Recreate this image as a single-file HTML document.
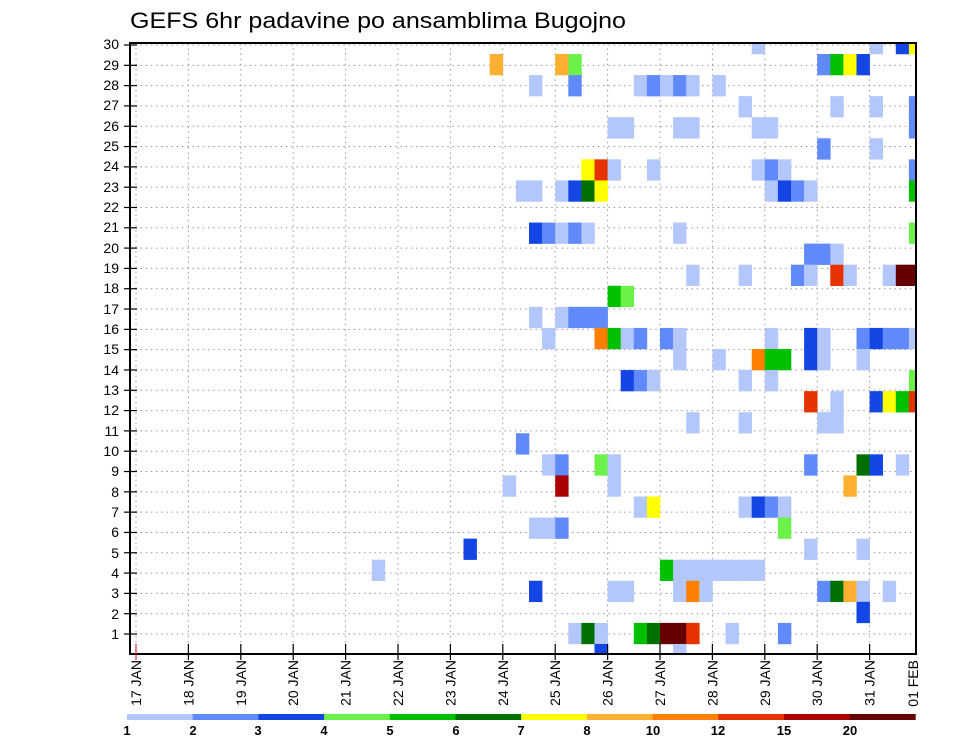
<!DOCTYPE html>
<html><head><meta charset="utf-8"><style>
html,body{margin:0;padding:0;background:#fff;}
svg{display:block;font-family:"Liberation Sans",sans-serif;}
</style></head><body>
<svg id="s" width="960" height="742" viewBox="0 0 960 742" xmlns="http://www.w3.org/2000/svg">
<defs><clipPath id="pc"><rect x="130" y="43" width="786" height="611"/></clipPath></defs>
<text x="130" y="28" font-size="22" textLength="496" lengthAdjust="spacingAndGlyphs" fill="#000">GEFS 6hr padavine po ansamblima Bugojno</text>
<g id="grid"></g>
<g id="cells" clip-path="url(#pc)"></g>
<rect x="130" y="43" width="786" height="611" fill="none" stroke="#000" stroke-width="2"/>
<g id="ticks"></g>
<g font-size="14" text-anchor="end" fill="#000">
<text x="119" y="639">1</text><text x="119" y="619">2</text><text x="119" y="598">3</text><text x="119" y="578">4</text><text x="119" y="558">5</text><text x="119" y="537">6</text><text x="119" y="517">7</text><text x="119" y="497">8</text><text x="119" y="476">9</text><text x="119" y="456">10</text><text x="119" y="436">11</text><text x="119" y="415">12</text><text x="119" y="395">13</text><text x="119" y="375">14</text><text x="119" y="354">15</text><text x="119" y="334">16</text><text x="119" y="314">17</text><text x="119" y="293">18</text><text x="119" y="273">19</text><text x="119" y="253">20</text><text x="119" y="232">21</text><text x="119" y="212">22</text><text x="119" y="192">23</text><text x="119" y="171">24</text><text x="119" y="151">25</text><text x="119" y="131">26</text><text x="119" y="110">27</text><text x="119" y="90">28</text><text x="119" y="70">29</text><text x="119" y="49">30</text>
</g>
<g font-size="14" text-anchor="end" fill="#000">
<text transform="translate(141,660) rotate(-90)">17 JAN</text>
<text transform="translate(193.4,660) rotate(-90)">18 JAN</text>
<text transform="translate(245.8,660) rotate(-90)">19 JAN</text>
<text transform="translate(298.2,660) rotate(-90)">20 JAN</text>
<text transform="translate(350.6,660) rotate(-90)">21 JAN</text>
<text transform="translate(403,660) rotate(-90)">22 JAN</text>
<text transform="translate(455.4,660) rotate(-90)">23 JAN</text>
<text transform="translate(507.8,660) rotate(-90)">24 JAN</text>
<text transform="translate(560.2,660) rotate(-90)">25 JAN</text>
<text transform="translate(612.6,660) rotate(-90)">26 JAN</text>
<text transform="translate(665,660) rotate(-90)">27 JAN</text>
<text transform="translate(717.4,660) rotate(-90)">28 JAN</text>
<text transform="translate(769.8,660) rotate(-90)">29 JAN</text>
<text transform="translate(822.2,660) rotate(-90)">30 JAN</text>
<text transform="translate(874.6,660) rotate(-90)">31 JAN</text>
<text transform="translate(918,660) rotate(-90)">01 FEB</text>
</g>
<g id="cbar"></g>
<g font-size="13" font-weight="bold" text-anchor="middle" fill="#000">
<text x="127" y="735">1</text><text x="193" y="735">2</text><text x="258" y="735">3</text><text x="324" y="735">4</text><text x="390" y="735">5</text><text x="456" y="735">6</text><text x="521" y="735">7</text><text x="587" y="735">8</text><text x="653" y="735">10</text><text x="718" y="735">12</text><text x="784" y="735">15</text><text x="850" y="735">20</text>
</g>
</svg>
<script>
var NS="http://www.w3.org/2000/svg";
function el(p,t,a){var e=document.createElementNS(NS,t);for(var k in a)e.setAttribute(k,a[k]);p.appendChild(e);return e;}
var C={L:"#b3c7fb",M:"#6089fa",D:"#1446e6",LG:"#6cf04a",G:"#00c000",DG:"#007000",Y:"#ffff00",O:"#ffb030",OR:"#ff7f00",R:"#e63200",DR:"#aa0000",X:"#660000"};
var grid=document.getElementById("grid"),ticks=document.getElementById("ticks");
for(var k=1;k<=30;k++){var y=634-(k-1)*20.31;
 el(grid,"line",{x1:130,x2:916,y1:y,y2:y,stroke:"#999","stroke-width":1,"stroke-dasharray":"1.5 3.7"});
 el(ticks,"line",{x1:124,x2:137,y1:y,y2:y,stroke:"#000","stroke-width":1.2});}
for(var d=0;d<15;d++){var x=136+d*52.4;
 el(grid,"line",{x1:x,x2:x,y1:43,y2:654,stroke:"#999","stroke-width":1,"stroke-dasharray":"1.5 3.7"});
 el(ticks,"line",{x1:x,x2:x,y1:644,y2:660,stroke:d==0?"#c33":"#000","stroke-width":1.2});}
var data={
"-1":"47L 56L 58D 59Y",
"0":"27O 32O 33LG 52M 53G 54Y 55D",
"1":"30L 33M 38L 39M 40L 41M 42L 44L",
"2":"46L 53L 56L 59M",
"3":"36L 37L 41L 42L 47L 48L 59M",
"4":"52M 56L",
"5":"34Y 35R 36L 39L 47L 48M 49L 59M",
"6":"29L 30L 32L 33D 34DG 35Y 48L 49D 50M 51L 59G",
"8":"30D 31M 32L 33M 34L 41L 59LG",
"9":"51M 52M 53L",
"10":"42L 46L 50M 51L 53R 54L 57L 58X 59X",
"11":"36G 37LG",
"12":"30L 32L 33M 34M 35M",
"13":"31L 35OR 36G 37L 38M 40M 41L 48L 51D 52L 55M 56D 57M 58M 59L",
"14":"41L 44L 47OR 48G 49G 51D 52L 55L",
"15":"37D 38M 39L 46L 48L 59LG",
"16":"51R 53L 56D 57Y 58G 59R",
"17":"42L 46L 52L 53L",
"18":"29M",
"19":"31L 32M 35LG 36L 51M 55DG 56D 58L",
"20":"28L 32DR 36L 54O",
"21":"38L 39Y 46L 47D 48M 49L",
"22":"30L 31L 32M 49LG",
"23":"25D 51L 55L",
"24":"18L 40G 41L 42L 43L 44L 45L 46L 47L",
"25":"30D 36L 37L 41L 42OR 43L 52M 53DG 54O 55L 57L",
"26":"55D",
"27":"33L 34DG 35L 38G 39DG 40X 41X 42R 45L 49M",
"28":"35D 41L"};
var cells=document.getElementById("cells");
for(var j in data){data[j].split(" ").forEach(function(t){var m=t.match(/^(\d+)([A-Z]+)$/);var c=+m[1];
 el(cells,"rect",{x:136+c*13.1,y:54+(+j)*21.07,width:13.4,height:21.3,fill:C[m[2]]});});}
var cb=document.getElementById("cbar"),cols=["L","M","D","LG","G","DG","Y","O","OR","R","DR","X"];
cols.forEach(function(k,i){el(cb,"rect",{x:127+i*65.7,y:714,width:66,height:6,fill:C[k]});});
</script>
</body></html>
